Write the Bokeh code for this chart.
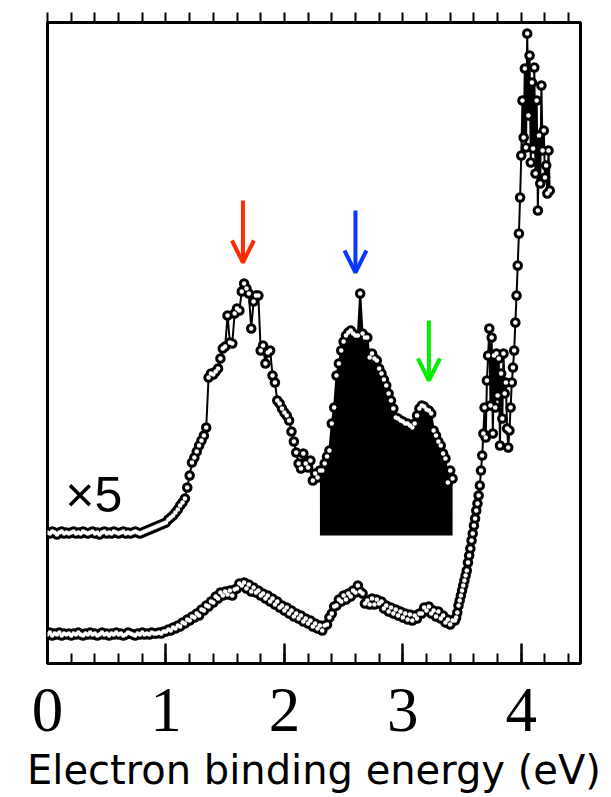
from bokeh.plotting import figure
from bokeh.models import Range1d, LinearAxis, SingleIntervalTicker, Arrow, OpenHead, Label
from bokeh.embed import file_html
from bokeh.resources import INLINE

# ---------------- data (intensity in arbitrary units) ----------------
x_step_main = 0.02          # eV sampling of the main scans (start at 0 eV)
edge_start = 3.44           # eV start of the finely sampled edge part of the lower scan
edge_step = 0.01

lower_main = [
    29, 31, 28, 30, 29, 31, 28, 30, 29, 30,
    28, 30, 29, 31, 29, 28, 30, 29, 31, 29,
    30, 28, 29, 31, 29, 30, 28, 30, 29, 31,
    29, 30, 28, 29, 31, 30, 29, 28, 30, 29,
    31, 29, 30, 29, 31, 30, 30, 31, 30, 32,
    32, 34, 33, 36, 35, 38, 37, 41, 40, 44,
    43, 47, 46, 50, 48, 54, 53, 58, 57, 62,
    61, 67, 65, 71, 68, 72, 69, 73, 68, 74,
    75, 80, 78, 81, 75, 79, 72, 76, 71, 73,
    68, 70, 65, 68, 62, 65, 59, 62, 56, 58,
    53, 56, 50, 53, 47, 50, 45, 48, 42, 45,
    40, 43, 37, 40, 35, 38, 33, 38, 39, 46,
    50, 57, 58, 64, 62, 68, 64, 70, 67, 73,
    71, 78, 72, 70, 60, 63, 59, 65, 59, 64,
    60, 62, 55, 58, 52, 56, 50, 54, 48, 52,
    46, 50, 44, 49, 43, 48, 45, 50, 50, 56,
    53, 57, 50, 53, 47, 52, 45, 48, 41, 44,
    39, 43,
]

lower_edge = [
    43, 46, 51, 58, 63, 68, 73, 78, 83, 88,
    93, 101, 108, 115, 123, 130, 138, 145, 153, 160,
    168, 178, 193, 208, 230, 256, 226, 283, 308, 335,
    258, 326, 230, 308, 256, 310, 268, 305, 218, 290,
    245, 310, 270, 281, 235, 216, 233, 256, 281, 296,
    313, 341, 368, 398, 430, 466, 508, 563, 526, 595,
    516, 630, 548, 608, 501, 581, 515, 596, 490, 563,
    453, 528, 480, 578, 513, 533, 486, 498, 470, 513,
    473,
]

upper_main = [  # the "x5" scan
    131, 130, 132, 131, 129, 131, 132, 130, 131, 130,
    131, 132, 130, 131, 130, 132, 131, 130, 131, 132,
    130, 131, 129, 131, 132, 130, 131, 130, 132, 131,
    130, 131, 132, 130, 131, 130, 131, 132, 131, 130,
    131, 132, 133, 134, 135, 136, 137, 138, 139, 140,
    141, 144, 146, 148, 151, 154, 158, 161, 165, 176,
    188, 201, 206, 212, 218, 223, 228, 236, 286, 290,
    289, 292, 295, 305, 315, 317, 348, 321, 320, 350,
    355, 353, 372, 380, 375, 370, 335, 362, 368, 368,
    313, 318, 300, 311, 313, 288, 281, 263, 260, 255,
    251, 248, 243, 232, 222, 211, 200, 195, 210, 200,
    196, 203, 183, 190, 186, 193, 193, 200, 207, 213,
    240, 256, 288, 300, 313, 322, 328, 331, 333, 330,
    328, 328, 370, 330, 326, 326, 306, 310, 305, 303,
    295, 290, 284, 278, 270, 263, 255, 246, 245, 243,
    242, 240, 240, 238, 236, 240, 248, 255, 258, 257,
    254, 253, 250, 233, 228, 222, 218, 210, 205, 181,
    193, 185,
]

fill_start = 2.30     # eV where the shaded part of the x5 scan begins
fill_base = 128       # intensity level of the bottom of the shaded part

arrow_x = [1.65, 2.60, 3.22]
arrow_top = [463, 453, 343]
arrow_tip = [401, 391, 283]
arrow_colors = ["#ff2a00", "#0a37ff", "#00ee00"]

tick_values = [0, 1, 2, 3, 4]
tick_labels = ["0", "1", "2", "3", "4"]
scale_label = "\u00d75"
x_label = "Electron binding energy (eV)"

# ---------------- derived series ----------------
x_main = [round(i * x_step_main, 2) for i in range(len(lower_main))]
x_edge = [round(edge_start + i * edge_step, 2) for i in range(len(lower_edge))]
lower_x = x_main + x_edge
lower_y = lower_main + lower_edge
upper_x = [round(i * x_step_main, 2) for i in range(len(upper_main))]
fill_x = [x for x in upper_x if x >= fill_start - 1e-9]
fill_y = [y for x, y in zip(upper_x, upper_main) if x >= fill_start - 1e-9]

# ---------------- figure ----------------
p = figure(width=611, height=797, x_range=Range1d(0, 4.5), y_range=Range1d(0, 641),
           output_backend="svg", toolbar_location=None, y_axis_location=None,
           min_border_left=47, min_border_right=31, min_border_top=22, min_border_bottom=134)
p.grid.visible = False
p.background_fill_color = "white"
p.border_fill_color = "white"
p.outline_line_color = "black"
p.outline_line_width = 3

ax = p.xaxis[0]
ax.ticker = SingleIntervalTicker(interval=1, num_minor_ticks=5)
ax.major_label_overrides = {v: t for v, t in zip(tick_values, tick_labels)}
ax.major_tick_in = 20
ax.major_tick_out = 0
ax.minor_tick_in = 10
ax.minor_tick_out = 0
ax.major_tick_line_color = "black"
ax.minor_tick_line_color = "black"
ax.major_tick_line_width = 2.5
ax.minor_tick_line_width = 2
ax.axis_line_width = 3
ax.major_label_text_font = "Liberation Serif"
ax.major_label_text_font_size = "63px"
ax.major_label_text_color = "black"
ax.major_label_standoff = 25
ax.axis_label = x_label
ax.axis_label_text_font = "DejaVu Sans"
ax.axis_label_text_font_size = "40px"
ax.axis_label_text_font_style = "normal"
ax.axis_label_text_color = "black"
ax.axis_label_standoff = 13

top = LinearAxis(ticker=SingleIntervalTicker(interval=0.2),
                 major_tick_in=0, major_tick_out=10, major_tick_line_width=2,
                 major_tick_line_color="black",
                 minor_tick_line_color=None, axis_line_width=3,
                 major_label_text_font_size="6px", major_label_text_color=None,
                 major_label_standoff=0)
p.add_layout(top, "above")

# shaded part of the x5 scan
p.varea(x=fill_x, y1=fill_base, y2=fill_y, fill_color="black")

for xs, ys in ((lower_x, lower_y), (upper_x, upper_main)):
    p.line(xs, ys, line_color="black", line_width=2)
    p.scatter(xs, ys, marker="circle", size=10.5, line_color=None, fill_color="black")
for xs, ys in ((lower_x, lower_y), (upper_x, upper_main)):
    p.scatter(xs, ys, marker="circle", size=4.5, line_color=None, fill_color="white")

for xa, y0, y1, c in zip(arrow_x, arrow_top, arrow_tip, arrow_colors):
    p.add_layout(Arrow(end=OpenHead(size=22, line_color=c, line_width=4),
                       x_start=xa, y_start=y0, x_end=xa, y_end=y1,
                       line_color=c, line_width=4))

p.add_layout(Label(x=0.15, y=169, text=scale_label,
                   text_font="Liberation Sans", text_font_size="50px",
                   text_color="black", text_baseline="alphabetic"))

open("out.html", "w").write(file_html(p, INLINE))
